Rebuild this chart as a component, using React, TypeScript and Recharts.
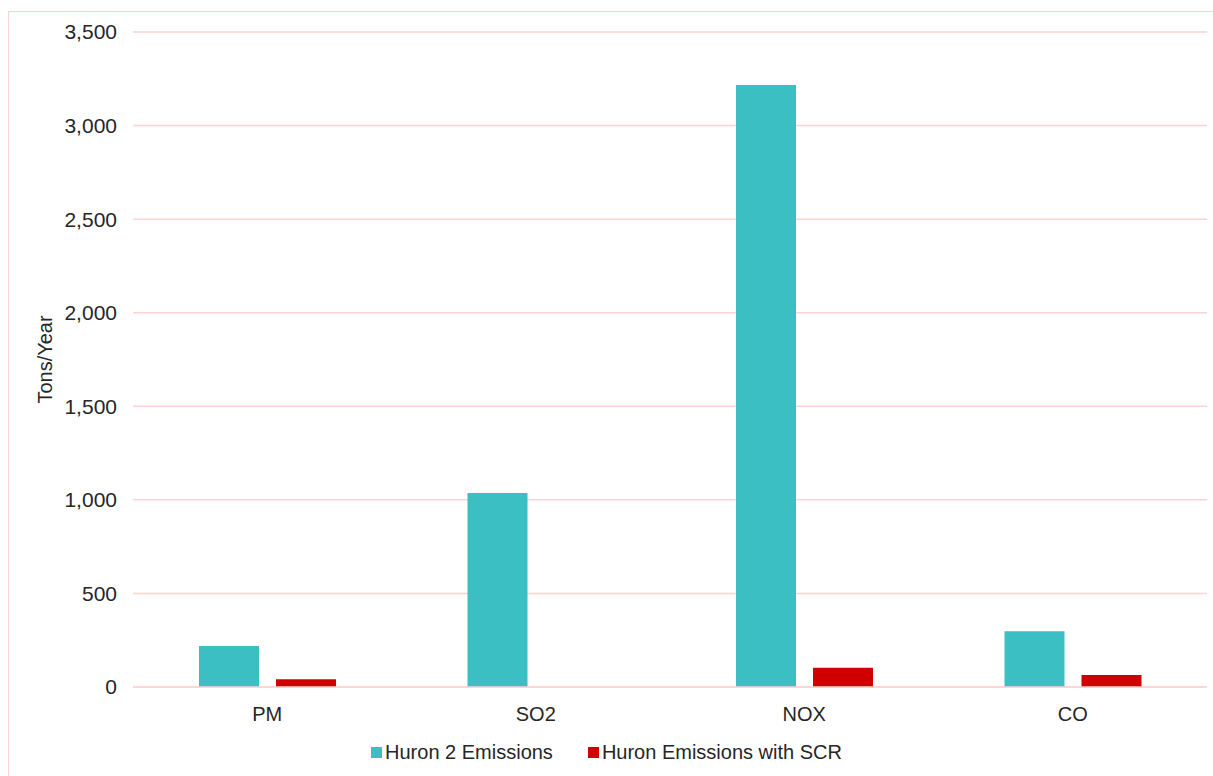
import React from 'react';
import { BarChart, Bar, XAxis, YAxis, CartesianGrid, Label } from 'recharts';

const pollutants = ['PM', 'SO2', 'NOX', 'CO'];
const huron2Emissions = [219, 1037, 3217, 298];
const huronWithScr = [41, 0, 103, 64];
const yTicks = [0, 500, 1000, 1500, 2000, 2500, 3000, 3500];

const seriesNames = ['Huron 2 Emissions', 'Huron Emissions with SCR'];
const seriesColors = ['#3BBFC2', '#D00000'];

const data = pollutants.map((p, i) => ({
  name: p,
  huron2: huron2Emissions[i],
  scr: huronWithScr[i],
}));

const FONT = '"Liberation Sans", Arial, sans-serif';
const GRID = '#FFD3D3';
const TEXT = '#262626';

const fmt = (v: number) => v.toLocaleString('en-US');

const YTitle = (props: any) => {
  const vb = props.viewBox || { y: 0, height: 0 };
  const cx = 45;
  const cy = vb.y + vb.height / 2;
  return (
    <text
      x={cx}
      y={cy}
      transform={`rotate(-90 ${cx} ${cy})`}
      textAnchor="middle"
      dominantBaseline="central"
      fontFamily={FONT}
      fontSize={20}
      fill={TEXT}
    >
      Tons/Year
    </text>
  );
};

export default function App() {
  return (
    <div
      style={{
        position: 'absolute',
        left: 0,
        top: 0,
        width: 1213,
        height: 776,
        background: '#fff',
        overflow: 'hidden',
        fontFamily: FONT,
      }}
    >
      <div
        style={{
          position: 'absolute',
          left: 8,
          top: 11,
          width: 1205,
          height: 765,
          borderTop: `1px solid ${GRID}`,
          borderLeft: `1px solid ${GRID}`,
          boxSizing: 'border-box',
        }}
      />
      <div style={{ position: 'absolute', left: 0, top: 0 }}>
        <BarChart
          width={1213}
          height={776}
          data={data}
          margin={{ top: 32, right: 6, left: 0, bottom: 49 }}
          barSize={60}
          barGap={17}
        >
          <CartesianGrid vertical={false} stroke={GRID} strokeWidth={1.5} />
          <XAxis
            dataKey="name"
            height={40}
            axisLine={{ stroke: GRID, strokeWidth: 1.5 }}
            tickLine={false}
            tickSize={0}
            tickMargin={20}
            tick={{ fontFamily: FONT, fontSize: 20, fill: TEXT }}
          />
          <YAxis
            width={133}
            domain={[0, 3500]}
            ticks={yTicks}
            interval={0}
            axisLine={false}
            tickLine={false}
            tickSize={0}
            tickMargin={16}
            tickFormatter={fmt}
            tick={{ fontFamily: FONT, fontSize: 21, fill: TEXT }}
          >
            <Label content={<YTitle />} />
          </YAxis>
          <Bar dataKey="huron2" name={seriesNames[0]} fill={seriesColors[0]} isAnimationActive={false} />
          <Bar dataKey="scr" name={seriesNames[1]} fill={seriesColors[1]} isAnimationActive={false} />
        </BarChart>
      </div>
      <div
        style={{
          position: 'absolute',
          left: 0,
          top: 740,
          width: 1213,
          height: 24,
          display: 'flex',
          justifyContent: 'center',
          alignItems: 'center',
          gap: 35,
          fontSize: 20,
          color: TEXT,
          lineHeight: '24px',
        }}
      >
        {seriesNames.map((n, i) => (
          <div key={n} style={{ display: 'flex', alignItems: 'center' }}>
            <span
              style={{
                display: 'inline-block',
                width: 11,
                height: 11,
                background: seriesColors[i],
                marginRight: 3,
              }}
            />
            <span>{n}</span>
          </div>
        ))}
      </div>
    </div>
  );
}
